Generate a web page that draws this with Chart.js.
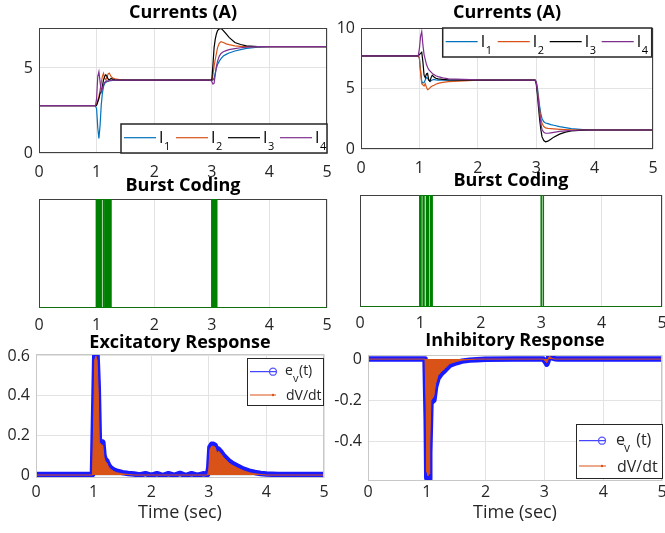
<!DOCTYPE html>
<html><head><meta charset="utf-8">
<script src="https://cdn.jsdelivr.net/npm/chart.js@4.4.1/dist/chart.umd.min.js"></script>
<style>
html,body{margin:0;padding:0;background:#fff;width:665px;height:533px;overflow:hidden}
canvas{position:absolute;left:0;top:0}
</style></head><body>
<canvas id="c1" width="665" height="533"></canvas>
<canvas id="c2" width="665" height="533"></canvas>
<canvas id="c3" width="665" height="533"></canvas>
<canvas id="c4" width="665" height="533"></canvas>
<canvas id="c5" width="665" height="533"></canvas>
<canvas id="c6" width="665" height="533"></canvas>
<script>
// ---------- data ----------
const timeTicks = [0,1,2,3,4,5];
const timeLabels = ['0','1','2','3','4','5'];

const tCur = [0,0.98,1.0,1.02,1.04,1.06,1.08,1.10,1.12,1.14,1.16,1.18,1.20,1.22,1.25,1.28,1.32,1.4,1.5,2.0,2.98,3.0,3.02,3.04,3.06,3.08,3.10,3.13,3.16,3.2,3.25,3.3,3.4,3.5,3.6,3.8,4.0,5.0];

// excitatory currents (top left)
const I1L = [2.78,2.78,2.6,1.5,0.85,1.6,2.8,3.5,3.9,4.1,4.15,4.2,4.22,4.25,4.26,4.27,4.28,4.28,4.28,4.28,4.28,4.28,4.3,4.4,4.7,5.0,5.2,5.4,5.55,5.7,5.8,5.88,6.0,6.08,6.15,6.23,6.25,6.25];
const I2L = [2.78,2.78,2.85,3.1,3.3,3.7,4.1,4.5,4.68,4.4,4.3,4.45,4.65,4.7,4.5,4.4,4.36,4.32,4.3,4.28,4.28,4.28,4.6,5.1,5.5,5.85,6.2,6.45,6.55,6.5,6.42,6.37,6.3,6.27,6.26,6.25,6.25,6.25];
const I3L = [2.78,2.78,2.8,3.0,3.2,3.5,3.6,3.9,4.3,4.5,4.6,4.5,4.35,4.3,4.38,4.33,4.3,4.29,4.28,4.28,4.28,4.28,5.2,6.2,6.7,7.0,7.2,7.3,7.33,7.2,7.0,6.8,6.5,6.38,6.3,6.26,6.25,6.25];
const I4L = [2.78,2.78,3.2,4.5,4.78,4.2,3.6,3.8,4.0,4.15,4.2,4.25,4.22,4.25,4.27,4.28,4.28,4.28,4.28,4.28,4.28,4.2,4.05,4.1,4.6,5.1,5.4,5.7,5.85,5.95,6.02,6.08,6.14,6.19,6.22,6.25,6.25,6.25];

// inhibitory currents (top right)
const I1R = [7.7,7.7,7.5,6.5,5.6,5.45,5.5,5.7,5.9,5.85,5.7,5.6,5.65,5.7,5.75,5.72,5.7,5.7,5.7,5.7,5.7,5.6,5.1,4.3,3.5,2.9,2.5,2.25,2.15,2.1,2.02,1.96,1.85,1.76,1.68,1.6,1.57,1.57];
const I2R = [7.7,7.7,7.5,6.3,5.4,5.3,5.2,5.4,5.1,4.9,4.95,5.05,5.15,5.2,5.27,5.35,5.42,5.5,5.57,5.69,5.7,5.55,4.9,4.0,3.2,2.5,2.1,1.85,1.75,1.7,1.68,1.66,1.63,1.61,1.59,1.57,1.57,1.57];
const I3R = [7.7,7.7,7.8,7.9,8.0,7.2,6.1,5.9,6.2,6.25,5.7,5.6,5.9,6.1,5.95,5.85,5.8,5.75,5.72,5.7,5.7,5.4,4.5,3.4,2.4,1.6,1.0,0.7,0.6,0.65,0.8,0.98,1.23,1.4,1.5,1.56,1.57,1.57];
const I4R = [7.7,7.7,8.3,9.3,9.7,8.6,7.8,7.4,7.0,6.75,6.55,6.45,6.35,6.25,6.15,6.05,5.98,5.88,5.8,5.71,5.7,5.5,4.8,3.8,2.9,2.1,1.6,1.38,1.3,1.3,1.34,1.38,1.45,1.5,1.53,1.57,1.57,1.57];

const curNames = ['I','I','I','I'];
const curSubs = ['1','2','3','4'];

// burst coding spike times
const spikesL = [0.99,1.0,1.01,1.02,1.03,1.04,1.05,1.06,1.07,1.08,1.115,1.12,1.145,1.16,1.17,1.18,1.19,1.2,1.21,1.22,1.23,1.24,1.25,3.0,3.01,3.02,3.03,3.04,3.05,3.06,3.07,3.08,3.09];
const spikesR = [0.99,1.0,1.01,1.045,1.06,1.1,1.11,1.13,1.165,1.18,1.195,3.0,3.035];

// excitatory response
const tEx = [0,0.98,1.0,1.02,1.04,1.06,1.08,1.10,1.12,1.14,1.16,1.18,1.2,1.23,1.26,1.3,1.35,1.4,1.5,1.6,1.7,1.8,1.9,2.0,2.1,2.2,2.3,2.4,2.5,2.6,2.7,2.8,2.9,2.98,3.0,3.02,3.05,3.08,3.11,3.14,3.17,3.2,3.25,3.3,3.35,3.4,3.5,3.6,3.7,3.8,3.9,4.0,4.2,4.5,5.0];
const evEx = [0.003,0.003,0.3,0.6,0.61,0.6,0.45,0.17,0.17,0.16,0.165,0.1,0.08,0.07,0.05,0.035,0.025,0.02,0.012,0.008,0.005,0.0,0.007,-0.002,0.007,-0.003,0.007,-0.002,0.008,-0.003,0.007,-0.002,0.006,0.003,0.04,0.14,0.155,0.155,0.15,0.12,0.13,0.12,0.1,0.085,0.07,0.06,0.045,0.03,0.02,0.013,0.008,0.005,0.003,0.003,0.003];
const dvEx = [0,0,0.25,0.58,0.6,0.58,0.42,0.15,0.16,0.15,0.15,0.09,0.07,0.06,0.04,0.028,0.018,0.012,0.006,0.003,0,0,0,0,0,0,0,0,0,0,0,0,0,0,0.03,0.13,0.145,0.145,0.14,0.11,0.12,0.11,0.09,0.075,0.06,0.05,0.035,0.022,0.012,0.006,0.003,0,0,0,0];

// inhibitory response
const tIn = [0,0.97,0.99,1.0,1.02,1.04,1.05,1.07,1.1,1.12,1.15,1.19,1.25,1.31,1.39,1.5,1.6,1.73,1.85,2.0,2.5,2.98,3.02,3.04,3.06,3.08,3.1,3.13,3.18,3.25,3.5,4.0,5.0];
const evIn = [0,0,-0.3,-0.58,-0.59,-0.585,-0.46,-0.216,-0.205,-0.2,-0.135,-0.094,-0.07,-0.054,-0.03,-0.018,-0.01,-0.005,-0.003,-0.001,0,0,-0.015,-0.025,-0.01,0.02,0.02,0.006,0.002,0,0,0,0];
const dvIn = [0,0,-0.25,-0.55,-0.57,-0.56,-0.42,-0.2,-0.19,-0.18,-0.12,-0.08,-0.06,-0.045,-0.022,-0.012,-0.005,-0.002,0,0,0,0,-0.01,-0.018,-0.005,0.012,0.012,0.003,0,0,0,0,0];

const yTicksTL = [0,5], yLabelsTL = ['0','5'];
const yTicksTR = [0,5,10], yLabelsTR = ['0','5','10'];
const yTicksBL = [0,0.2,0.4,0.6], yLabelsBL = ['0','0.2','0.4','0.6'];
const yTicksBR = [-0.4,-0.2,0], yLabelsBR = ['-0.4','-0.2','0'];

const evName = 'e', evSub = 'v', dvName = 'dV/dt';

// ---------- drawing ----------
const FONT = "'Open Sans', 'Noto Sans', 'DejaVu Sans', sans-serif";
Chart.defaults.font.family = FONT;
Chart.defaults.color = '#262626';
const COLORS = ['#0072BD','#D95319','#000000','#7E2F8E'];
const W = 665, H = 533;
const TITLE_SIZE = 18;

function pts(xs, ys){ return xs.map((x,i)=>({x:x, y:ys[i]})); }
function spikeTrain(times){
  const p=[{x:0,y:0}];
  times.forEach(t=>{ p.push({x:t,y:0},{x:t,y:1},{x:t,y:0}); });
  p.push({x:5,y:0});
  return p;
}
function curSets(series){
  return series.map((ys,i)=>({data:pts(tCur,ys), borderColor:COLORS[i], borderWidth:1.2, pointRadius:0, tension:0, fill:false, order:3-i}));
}
function respSets(ts, ev, dv){
  return [
    {data:pts(ts,ev), borderColor:'#1a1aff', borderWidth:5.5, pointRadius:0, tension:0, fill:false, order:1, borderJoinStyle:'round'},
    {data:pts(ts,dv), borderColor:'#D95319', backgroundColor:'#D95319', borderWidth:1, pointRadius:0, tension:0, fill:'origin', order:0}
  ];
}
function boxPlugin(color, width, before){
  const fn = function(chart){
    const a=chart.chartArea, c=chart.ctx;
    c.save(); c.strokeStyle=color; c.lineWidth=width;
    c.strokeRect(a.left+0.5, a.top+0.5, a.right-a.left-1, a.bottom-a.top-1);
    c.restore();
  };
  return before ? {id:'box', beforeDatasetsDraw:fn} : {id:'box', afterDatasetsDraw:fn};
}
function curLegend(o){
  return {id:'curLegend', afterDraw(chart){
    const a=chart.chartArea, c=chart.ctx, w=o.w, h=29;
    const x = a.right - w - o.dx;
    const y = o.pos==='bottom' ? a.bottom - h : a.top;
    c.save();
    c.fillStyle='#fff'; c.fillRect(x,y,w,h);
    c.strokeStyle='#262626'; c.lineWidth=1.5; c.strokeRect(x,y,w,h);
    for(let i=0;i<4;i++){
      const x0 = x+3+i*52;
      c.strokeStyle=COLORS[i]; c.lineWidth=1.2;
      c.beginPath(); c.moveTo(x0,y+13.7); c.lineTo(x0+32,y+13.7); c.stroke();
      c.fillStyle='#000'; c.textBaseline='alphabetic'; c.textAlign='left';
      c.font='16px '+FONT; c.fillText(curNames[i], x0+35, y+18.5);
      c.font='11px '+FONT; c.fillText(curSubs[i], x0+40, y+25.5);
    }
    c.restore();
  }};
}
function evLegend(o){
  return {id:'evLegend', afterDraw(chart){
    const a=chart.chartArea, c=chart.ctx;
    const x = a.right - o.w + o.dx;
    const y = o.top!=null ? a.top + o.top : a.bottom - o.h - o.bottom;
    c.save();
    c.fillStyle='#fff'; c.fillRect(x,y,o.w,o.h);
    c.strokeStyle='#262626'; c.lineWidth=1; c.strokeRect(x+0.5,y+0.5,o.w,o.h);
    c.strokeStyle='#1a1aff'; c.lineWidth=1;
    c.beginPath(); c.moveTo(x+3,y+o.y1); c.lineTo(x+o.ll,y+o.y1); c.stroke();
    c.lineWidth=1.3; c.strokeStyle='#5555ff';
    c.beginPath(); c.arc(x+26,y+o.y1,3.5,0,Math.PI*2); c.stroke();
    c.fillStyle='#262626'; c.textAlign='left'; c.textBaseline='alphabetic';
    c.font=o.fs+'px '+FONT; c.fillText(evName, x+o.tx, y+o.b1);
    c.font=Math.round(o.fs*0.75)+'px '+FONT; c.fillText(evSub, x+o.tx+8, y+o.b1+7);
    c.font=o.fs+'px '+FONT; c.fillText(o.suffix, x+o.tx+o.sx, y+o.b1);
    c.strokeStyle='#D95319'; c.lineWidth=1;
    c.beginPath(); c.moveTo(x+3,y+o.y2); c.lineTo(x+o.ll,y+o.y2); c.stroke();
    c.fillStyle='#D95319'; c.beginPath(); c.arc(x+26,y+o.y2,1.2,0,Math.PI*2); c.fill();
    c.fillStyle='#262626'; c.font=o.fs+'px '+FONT; c.fillText(dvName, x+o.tx+1, y+o.b2);
    c.restore();
  }};
}

function makeChart(id, p){
  const lh = TITLE_SIZE*1.2;
  const padTop = p.titleY - lh/2;
  const pb = p.area.t - p.titleY - lh/2;
  const A = p.area;
  return new Chart(document.getElementById(id), {
    type:'line',
    data:{datasets:p.datasets},
    options:{
      responsive:false, animation:false, devicePixelRatio:1,
      layout:{padding:{left:0, top:padTop, right:W-A.r, bottom:0}},
      plugins:{
        legend:{display:false}, tooltip:{enabled:false},
        title:{display:true, text:p.title, fullSize:false, color:'#000',
          font:{size:TITLE_SIZE, weight:'bold', family:FONT, lineHeight:1.2}, padding:{top:0,bottom:pb}}
      },
      scales:{
        x:{type:'linear', min:0, max:5,
          afterBuildTicks:s=>{ s.ticks = timeTicks.map(v=>({value:v})); },
          afterFit:s=>{ s.height = H - A.b; s.paddingLeft=0; s.paddingRight=0; },
          ticks:{padding:p.xPad, font:{size:16}, color:'#262626', maxRotation:0, autoSkip:false,
            callback:(v,i)=>timeLabels[i]},
          grid:{color:'#e3e3e3', drawTicks:false}, border:{display:false},
          title: p.xTitle ? {display:true, text:p.xTitle, color:'#262626', font:{size:18}, padding:{top:0,bottom:p.xTitlePad}} : {display:false}
        },
        y:{type:'linear', min:p.ymin, max:p.ymax,
          afterBuildTicks:s=>{ s.ticks = p.yTicks.map(v=>({value:v})); },
          afterFit:s=>{ s.width = A.l; s.paddingTop=0; s.paddingBottom=0; },
          ticks:{display:p.yTicks.length>0, padding:6, font:{size:16}, color:'#262626',
            callback:(v,i)=>p.yLabels[i]},
          grid:{display:p.yGrid, color:'#e3e3e3', drawTicks:false}, border:{display:false}
        }
      }
    },
    plugins:p.plugins
  });
}

makeChart('c1', {area:{l:39,t:28,r:327,b:153}, title:'Currents (A)', titleY:12.5, ymin:0, ymax:7.35,
  yTicks:yTicksTL, yLabels:yLabelsTL, yGrid:true, xPad:10,
  datasets:curSets([I1L,I2L,I3L,I4L]),
  plugins:[boxPlugin('#404040',1,false), curLegend({w:206, dx:0, pos:'bottom'})]});

makeChart('c2', {area:{l:361,t:28,r:653,b:149}, title:'Currents (A)', titleY:12.5, ymin:0, ymax:10,
  yTicks:yTicksTR, yLabels:yLabelsTR, yGrid:true, xPad:10,
  datasets:curSets([I1R,I2R,I3R,I4R]),
  plugins:[boxPlugin('#404040',1,false), curLegend({w:209, dx:1.3, pos:'top'})]});

makeChart('c3', {area:{l:39,t:199,r:327,b:308}, title:'Burst Coding', titleY:185.5, ymin:0, ymax:1,
  yTicks:[], yLabels:[], yGrid:false, xPad:8,
  datasets:[{data:spikeTrain(spikesL), borderColor:'#008000', borderWidth:1.5, pointRadius:0, tension:0, fill:false}],
  plugins:[boxPlugin('#404040',1,true)]});

makeChart('c4', {area:{l:360,t:195,r:662,b:307}, title:'Burst Coding', titleY:181, ymin:0, ymax:1,
  yTicks:[], yLabels:[], yGrid:false, xPad:7,
  datasets:[{data:spikeTrain(spikesR), borderColor:'#008000', borderWidth:1.5, pointRadius:0, tension:0, fill:false}],
  plugins:[boxPlugin('#404040',1,true)]});

makeChart('c5', {area:{l:36,t:354,r:324,b:478}, title:'Excitatory Response', titleY:342.5, ymin:-0.015, ymax:0.61,
  yTicks:yTicksBL, yLabels:yLabelsBL, yGrid:true, xPad:5, xTitle:'Time (sec)', xTitlePad:9,
  datasets:respSets(tEx, evEx, dvEx),
  plugins:[boxPlugin('#c8c8c8',1,false), evLegend({w:76, h:47, dx:-1, top:4, y1:13.7, b1:17, y2:37, b2:42, tx:38, sx:14, ll:29, fs:14, suffix:'(t)'})]});

makeChart('c6', {area:{l:368,t:355,r:662,b:481}, title:'Inhibitory Response', titleY:341, ymin:-0.595, ymax:0.02,
  yTicks:yTicksBR, yLabels:yLabelsBR, yGrid:true, xPad:2, xTitle:'Time (sec)', xTitlePad:9,
  datasets:respSets(tIn, evIn, dvIn),
  plugins:[boxPlugin('#c8c8c8',1,false), evLegend({w:86, h:54, dx:0, bottom:3, y1:16.7, b1:21, y2:42, b2:47.7, tx:40, sx:16, ll:30, fs:16, suffix:' (t)'})]});
</script>
</body></html>
